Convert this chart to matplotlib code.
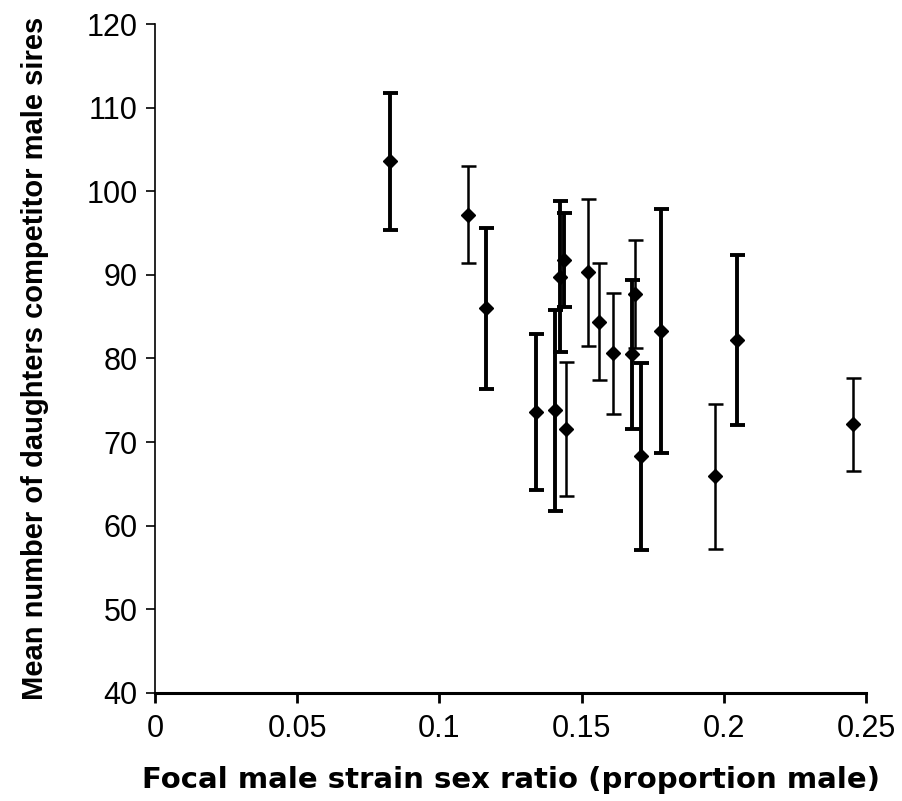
"""Mean daughters sired by competitor males vs focal strain sex ratio."""

import matplotlib

matplotlib.use("Agg")

import matplotlib.pyplot as plt
import numpy as np

# values
sex_ratio = [0.0826, 0.1101, 0.1163, 0.1339, 0.1408, 0.1423, 0.1438, 0.1445,
             0.1523, 0.1560, 0.1610, 0.1687, 0.1676, 0.1710, 0.1780, 0.1968,
             0.2046, 0.2454]
mean_daughters = [103.6, 97.2, 86.0, 73.6, 73.8, 89.8, 91.8, 71.6,
                  90.3, 84.4, 80.6, 87.7, 80.5, 68.3, 83.3, 65.9,
                  82.2, 72.1]
error = [8.2, 5.8, 9.6, 9.3, 12.0, 9.0, 5.6, 8.0,
         8.8, 7.0, 7.2, 6.5, 8.9, 11.2, 14.6, 8.7,
         10.2, 5.6]
# some bars are drawn heavier than others in the original
heavy = [True, False, True, True, True, True, True, False,
         False, False, False, False, True, True, True, False,
         True, False]

x_ticks = [0, 0.05, 0.1, 0.15, 0.2, 0.25]
x_tick_labels = ["0", "0.05", "0.1", "0.15", "0.2", "0.25"]
y_ticks = [40, 50, 60, 70, 80, 90, 100, 110, 120]

plt.rcParams["font.family"] = ["Liberation Sans", "DejaVu Sans"]

fig = plt.figure(figsize=(9.03, 8.01), dpi=100)
ax = fig.add_axes([0.1717, 0.135, 0.7873, 0.835])

x = np.array(sex_ratio)
y = np.array(mean_daughters)
e = np.array(error)
for xi, yi, ei, hv in zip(x, y, e, heavy):
    lw = 2.8 if hv else 1.8
    ax.errorbar(xi, yi, yerr=ei, fmt="none", ecolor="black",
                elinewidth=lw, capsize=5.4, capthick=lw, zorder=2)
ax.plot(x, y, linestyle="none", marker="D", markersize=7.2,
        color="black", zorder=3)

ax.set_xlim(0, 0.25)
ax.set_ylim(40, 120)
ax.set_xticks(x_ticks)
ax.set_xticklabels(x_tick_labels)
ax.set_yticks(y_ticks)
ax.spines[["top", "right"]].set_visible(False)
ax.spines["bottom"].set_linewidth(2.2)
ax.spines["left"].set_linewidth(1.2)
ax.tick_params(axis="x", direction="out", length=7, width=2.0,
               labelsize=22, pad=8)
ax.tick_params(axis="y", direction="out", length=6.5, width=1.2,
               labelsize=22, pad=6)

ax.set_xlabel("Focal male strain sex ratio (proportion male)",
              fontsize=21, fontweight="bold", labelpad=16,
              family=["DejaVu Sans"])
ax.set_ylabel("Mean number of daughters competitor male sires",
              fontsize=21, fontweight="bold", labelpad=27)

fig.savefig("out.png", dpi=100)
